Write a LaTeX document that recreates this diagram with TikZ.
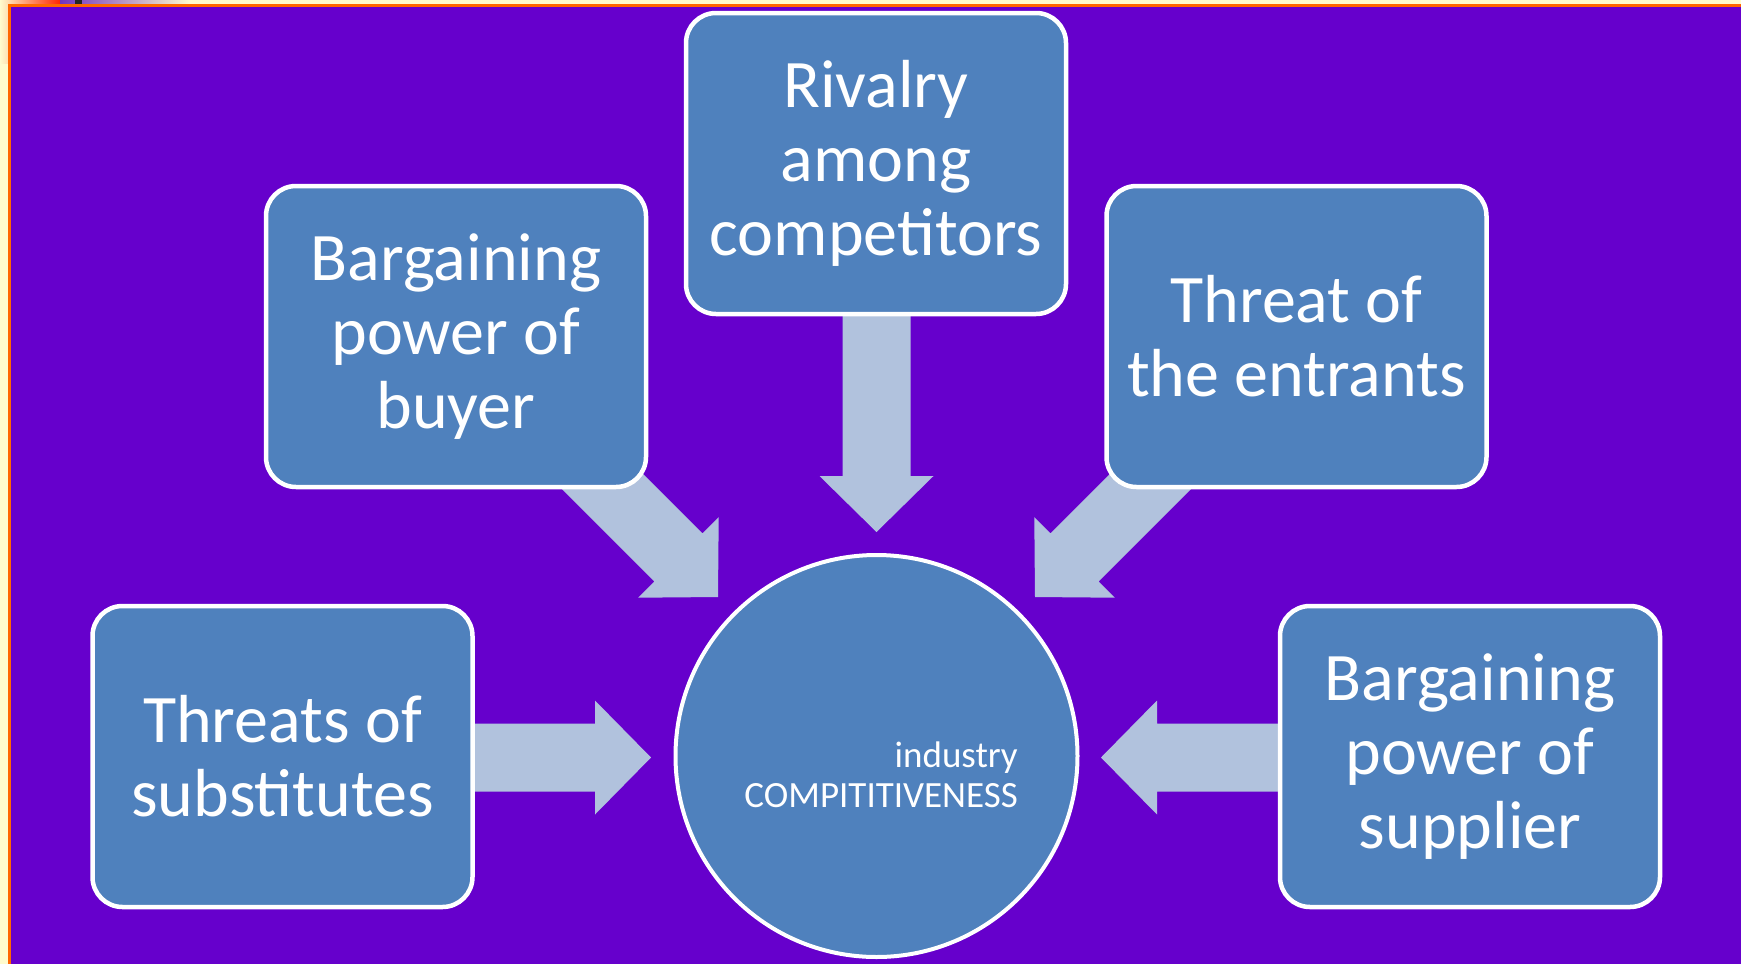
\documentclass[tikz,border=0pt]{standalone}
\usepackage{fontspec}
\setmainfont{Carlito}
\usetikzlibrary{calc}
\definecolor{bgpurple}{HTML}{6600CC}
\definecolor{boxblue}{HTML}{4F81BD}
\definecolor{arrowblue}{HTML}{B1C2DD}
\definecolor{cream}{HTML}{FFFBCD}
\definecolor{frameorange}{HTML}{FF6600}
\newcommand\blockarrow[2]{%
  \coordinate (hb) at ($(#2)!56pt!(#1)$);
  \fill[arrowfill] ($(#1)!34pt!90:(#2)$) -- ($(hb)!34pt!90:(#2)$) -- ($(hb)!57pt!90:(#2)$) -- (#2)
    -- ($(hb)!57pt!-90:(#2)$) -- ($(hb)!34pt!-90:(#2)$) -- ($(#1)!34pt!-90:(#2)$) -- cycle;}
\begin{document}
\begin{tikzpicture}[x=1pt,y=-1pt,
  forcebox/.style={draw=white, line width=4.5pt, fill=boxblue, rounded corners=30pt,
    minimum width=380pt, minimum height=301pt, text=white, align=center,
    font=\fontsize{68}{74}\selectfont, inner sep=0pt},
  core/.style={circle, draw=white, line width=4pt, fill=boxblue, minimum size=402pt, inner sep=0pt},
  smalltext/.style={text=white, font=\fontsize{37}{40}\selectfont, inner sep=0pt},
  arrowfill/.style={fill=arrowblue}]
\useasboundingbox (0,0) rectangle (1741,964);
% frame
\fill[cream] (0,0) rectangle (1741,964);
\shade[left color=cream, right color=red!70!orange] (0,0) rectangle (60,64);
\fill[cream] (0,64) rectangle (8,964);
\shade[left color=blue!60!purple!80!white, right color=cream] (60,0) rectangle (190,4);
\fill[black!85] (75,0) rectangle (82,4);
\fill[frameorange] (8,4) rectangle (1741,964);
\fill[bgpurple] (11,7) rectangle (1741,964);
% start and tip coordinates
\coordinate (sTop) at (876.5,290);
\coordinate (tTop) at (876.5,532);
\coordinate (sBuy) at (582,461);
\coordinate (tBuy) at (718,597);
\coordinate (sEnt) at (1171,461);
\coordinate (tEnt) at (1035,597);
\coordinate (sSub) at (450,757.5);
\coordinate (tSub) at (651,757.5);
\coordinate (sSup) at (1300,757.5);
\coordinate (tSup) at (1101,757.5);
% arrows
\blockarrow{sTop}{tTop}
\blockarrow{sBuy}{tBuy}
\blockarrow{sEnt}{tEnt}
\blockarrow{sSub}{tSub}
\blockarrow{sSup}{tSup}
% boxes
\node[forcebox] (rival) at (876,163.5) {Rivalry\\among\\competitors};
\node[forcebox] (buyer) at (456,336.5) {Bargaining\\power of\\buyer};
\node[forcebox] (entr) at (1296.5,336.5) {Threat of\\the entrants};
\node[forcebox] (subs) at (282.5,756.5) {Threats of\\substitutes};
\node[forcebox] (supp) at (1470,756.5) {Bargaining\\power of\\supplier};
\node[core] (center) at (876.5,756) {};
\node[smalltext, anchor=base east] (ind) at (1018,767) {industry};
\node[smalltext, anchor=base east] (comp) at (1018,807) {COMPITITIVENESS};
\end{tikzpicture}
\end{document}
